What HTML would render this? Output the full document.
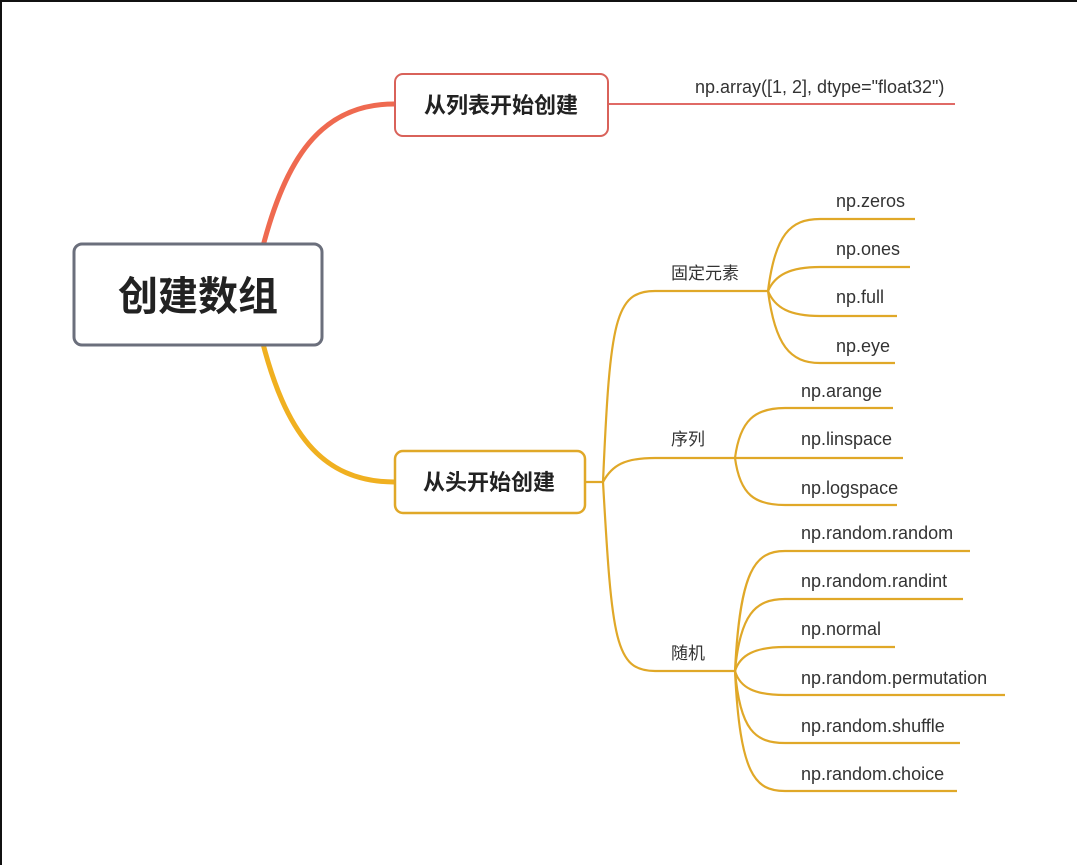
<!DOCTYPE html>
<html><head><meta charset="utf-8"><style>
html,body{margin:0;padding:0;background:#fff;}
svg{display:block;}
text{font-family:"Liberation Sans","Noto Sans CJK SC",sans-serif;}
</style></head><body>
<svg width="1077" height="865" viewBox="0 0 1077 865" xmlns="http://www.w3.org/2000/svg">
<rect width="1077" height="865" fill="#fff"/>
<rect x="0" y="0" width="1077" height="2" fill="#111"/>
<rect x="0" y="0" width="2" height="865" fill="#111"/>
<path d="M262 250 C 285 160, 320 104, 394 104" fill="none" stroke="#ef6a50" stroke-width="5"/>
<path d="M262 340 C 285 430, 320 482, 394 482" fill="none" stroke="#f0b020" stroke-width="5"/>
<line x1="608" y1="104" x2="955" y2="104" stroke="#e06a66" stroke-width="2"/>
<text x="695" y="93" font-size="18" fill="#333">np.array([1, 2], dtype="float32")</text>
<g fill="none" stroke="#e0a828" stroke-width="2.2">
<path d="M585 482 L603 482"/>
<path d="M603 482 C 610 320, 615 291, 655 291 L768 291"/>
<path d="M603 482 C 612 465, 625 458, 655 458 L735 458"/>
<path d="M603 482 C 612 640, 615 671, 655 671 L735 671"/>
<path d="M768 291 C 775 235, 790 219, 820 219 L915 219"/>
<path d="M768 291 C 775 275, 790 267, 820 267 L910 267"/>
<path d="M768 291 C 775 308, 790 316, 820 316 L897 316"/>
<path d="M768 291 C 775 345, 790 363, 820 363 L895 363"/>
<path d="M735 458 C 740 420, 755 408, 785 408 L893 408"/>
<path d="M735 458 L903 458"/>
<path d="M735 458 C 740 495, 755 505, 785 505 L897 505"/>
<path d="M735 671 C 740 570, 755 551, 785 551 L970 551"/>
<path d="M735 671 C 740 615, 755 599, 785 599 L963 599"/>
<path d="M735 671 C 740 655, 755 647, 785 647 L895 647"/>
<path d="M735 671 C 740 688, 755 695, 785 695 L1005 695"/>
<path d="M735 671 C 740 730, 755 743, 785 743 L960 743"/>
<path d="M735 671 C 740 775, 755 791, 785 791 L957 791"/>
</g>
<g font-size="17" fill="#333">
<text x="671" y="279">固定元素</text>
<text x="671" y="445">序列</text>
<text x="671" y="659">随机</text>
</g>
<g font-size="18" fill="#333">
<text x="836" y="207">np.zeros</text>
<text x="836" y="255">np.ones</text>
<text x="836" y="303">np.full</text>
<text x="836" y="352">np.eye</text>
<text x="801" y="397">np.arange</text>
<text x="801" y="445">np.linspace</text>
<text x="801" y="494">np.logspace</text>
<text x="801" y="539">np.random.random</text>
<text x="801" y="587">np.random.randint</text>
<text x="801" y="635">np.normal</text>
<text x="801" y="684">np.random.permutation</text>
<text x="801" y="732">np.random.shuffle</text>
<text x="801" y="780">np.random.choice</text>
</g>
<rect x="74" y="244" width="248" height="101" rx="8" fill="#fff" stroke="#6b6f7c" stroke-width="3"/>
<text x="198" y="310" font-size="40" font-weight="bold" fill="#222" text-anchor="middle">创建数组</text>
<rect x="395" y="74" width="213" height="62" rx="8" fill="#fff" stroke="#d9625a" stroke-width="2"/>
<text x="501" y="113" font-size="22" font-weight="bold" fill="#222" text-anchor="middle">从列表开始创建</text>
<rect x="395" y="451" width="190" height="62" rx="8" fill="#fff" stroke="#e0a828" stroke-width="2.5"/>
<text x="489" y="490" font-size="22" font-weight="bold" fill="#222" text-anchor="middle">从头开始创建</text>
</svg>
</body></html>
